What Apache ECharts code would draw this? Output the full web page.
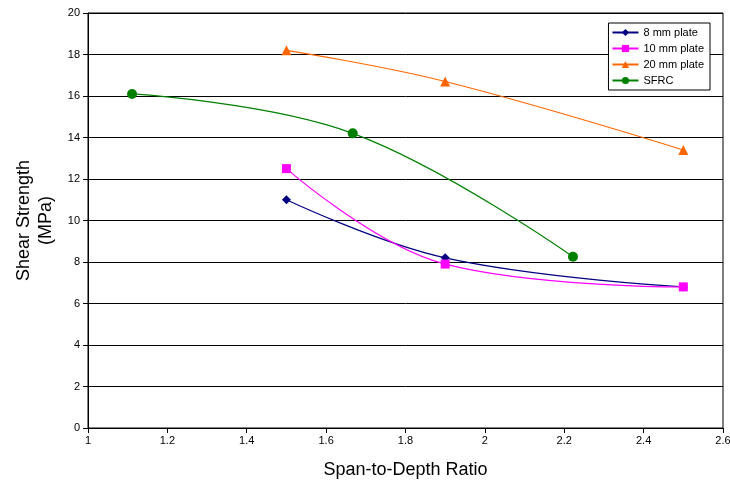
<!DOCTYPE html>
<html>
<head>
  <meta charset="UTF-8">
  <title>Shear Strength vs Span-to-Depth Ratio</title>
  <style>
    body { margin: 0; background: #fff; }
    #chart { width: 730px; height: 485px; }
  </style>
  <script src="https://cdn.jsdelivr.net/npm/echarts@6/dist/echarts.min.js"></script>
</head>
<body>
  <div id="chart"></div>
  <script>
    var seriesNames = ['8 mm plate', '10 mm plate', '20 mm plate', 'SFRC'];
    var plate8 = [[1.5, 11.0], [1.9, 8.2], [2.5, 6.8]];
    var plate10 = [[1.5, 12.5], [1.9, 7.9], [2.5, 6.8]];
    var plate20 = [[1.5, 18.2], [1.9, 16.7], [2.5, 13.4]];
    var sfrc = [[1.111, 16.1], [1.667, 14.2], [2.222, 8.25]];

    var chart = echarts.init(document.getElementById('chart'));
    var font = 'Liberation Sans, Arial, sans-serif';

    function line(name, data, color, symbol, size) {
      return {
        name: name,
        type: 'line',
        data: data,
        smooth: 0.4,
        symbol: symbol,
        symbolSize: size,
        lineStyle: { color: color, width: 1.2 },
        itemStyle: { color: color },
        z: 3
      };
    }

    chart.setOption({
      animation: false,
      grid: {
        left: 88, right: 7, top: 13, bottom: 57,
        outerBoundsMode: 'none',
        show: true, borderColor: '#000', borderWidth: 1
      },
      legend: {
        orient: 'vertical',
        right: 20,
        top: 23,
        data: seriesNames,
        backgroundColor: '#fff',
        borderColor: '#000',
        borderWidth: 1,
        borderRadius: 0,
        padding: [4, 6, 4, 3],
        itemGap: 5,
        itemWidth: 26,
        itemHeight: 9,
        textStyle: { fontFamily: font, fontSize: 11, color: '#000' }
      },
      xAxis: {
        type: 'value',
        min: 1,
        max: 2.6,
        interval: 0.2,
        name: 'Span-to-Depth Ratio',
        nameLocation: 'middle',
        nameGap: 33,
        nameTextStyle: { fontFamily: font, fontSize: 18, color: '#000' },
        axisLine: { lineStyle: { color: '#000' } },
        axisTick: { show: true, length: 5, lineStyle: { color: '#000' } },
        axisLabel: {
          fontFamily: font, fontSize: 11, color: '#000', margin: 7,
          formatter: function (v) { return +v.toFixed(1) + ''; }
        },
        splitLine: { show: false }
      },
      yAxis: {
        type: 'value',
        min: 0,
        max: 20,
        interval: 2,
        name: 'Shear Strength\n(MPa)',
        nameLocation: 'middle',
        nameGap: 31,
        nameTextStyle: { fontFamily: font, fontSize: 18, color: '#000', lineHeight: 22 },
        axisLine: { show: true, lineStyle: { color: '#000' } },
        axisTick: { show: true, length: 5, lineStyle: { color: '#000' } },
        axisLabel: { fontFamily: font, fontSize: 11, color: '#000', margin: 8 },
        splitLine: { show: true, lineStyle: { color: '#000', width: 1 } }
      },
      series: [
        line(seriesNames[0], plate8, '#000080', 'diamond', 9),
        line(seriesNames[1], plate10, '#FF00FF', 'rect', 9),
        line(seriesNames[2], plate20, '#FF6600', 'triangle', 10),
        line(seriesNames[3], sfrc, '#008000', 'circle', 10)
      ]
    });
  </script>
</body>
</html>
